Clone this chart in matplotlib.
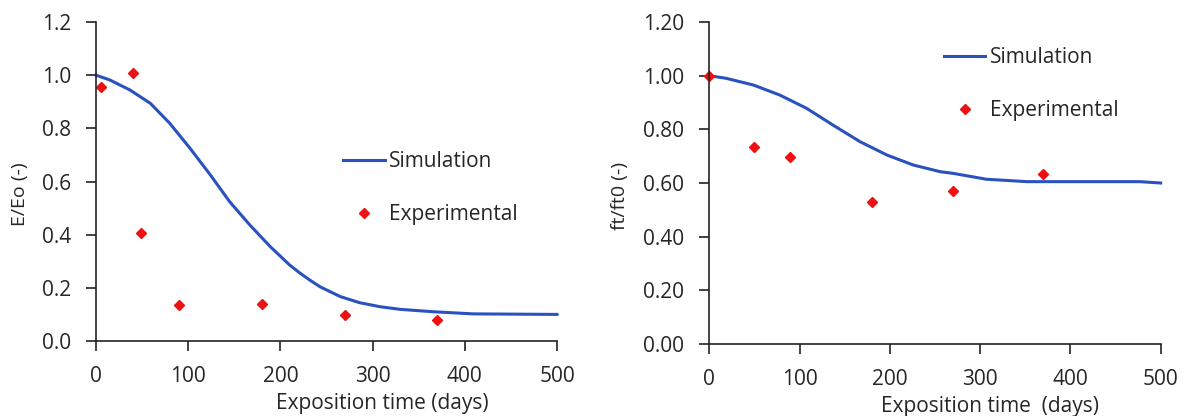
import matplotlib
matplotlib.use("Agg")
import matplotlib.pyplot as plt

# ─── Data ───────────────────────────────────────────────────────────────────
# Left panel: E/Eo
sim_e_t = [0, 15, 37, 59, 80, 102, 124, 145, 167, 189, 210, 221, 232, 243,
           265, 286, 308, 330, 366, 409, 500]
sim_e_v = [1.00, 0.982, 0.944, 0.894, 0.819, 0.725, 0.625, 0.524, 0.436,
           0.355, 0.286, 0.256, 0.229, 0.204, 0.167, 0.144, 0.129, 0.119,
           0.110, 0.102, 0.100]
exp_e_t = [6, 40, 49, 90, 180, 270, 370]
exp_e_v = [0.955, 1.01, 0.407, 0.134, 0.139, 0.098, 0.078]

# Right panel: ft/ft0
sim_f_t = [0, 19, 49, 78, 108, 137, 167, 197, 226, 256, 270, 307, 352, 477, 500]
sim_f_v = [1.00, 0.990, 0.965, 0.928, 0.878, 0.816, 0.754, 0.704, 0.667,
           0.642, 0.636, 0.614, 0.605, 0.605, 0.600]
exp_f_t = [0, 50, 90, 180, 270, 370]
exp_f_v = [1.00, 0.734, 0.698, 0.529, 0.571, 0.634]

x_ticks = [0, 100, 200, 300, 400, 500]
e_ticks = [0.0, 0.2, 0.4, 0.6, 0.8, 1.0, 1.2]
f_ticks = [0.0, 0.2, 0.4, 0.6, 0.8, 1.0, 1.2]

BLUE = "#2a52be"
RED = "#ee1111"
TXT = "#262626"

plt.rcParams["font.family"] = ["Open Sans", "DejaVu Sans"]

fig = plt.figure(figsize=(11.92, 4.16), dpi=100)
ax1 = fig.add_axes([0.0805, 0.1803, 0.3868, 0.7668])
ax2 = fig.add_axes([0.5950, 0.1731, 0.3787, 0.7740])


def style(ax, yticks, fmt, ylabel, xlabel, ylab_x):
    ax.set_xlim(0, 500)
    ax.set_ylim(0, 1.2)
    ax.set_xticks(x_ticks)
    ax.set_yticks(yticks)
    ax.set_yticklabels([fmt.format(v) for v in yticks])
    for s in ("top", "right"):
        ax.spines[s].set_visible(False)
    for s in ("left", "bottom"):
        ax.spines[s].set_color("#222222")
        ax.spines[s].set_linewidth(1.2)
    ax.tick_params(direction="out", length=7, width=1.2, color="#222222",
                   labelsize=15, labelcolor=TXT, pad=11)
    ax.set_ylabel(ylabel, fontsize=14, color=TXT)
    ax.set_xlabel(xlabel, fontsize=15, color=TXT)
    ax.xaxis.set_label_coords(0.621, -0.163)
    ax.yaxis.set_label_coords(ylab_x, 0.46)


ax1.plot(sim_e_t, sim_e_v, color=BLUE, lw=2.2, label="Simulation", clip_on=False)
ax1.plot(exp_e_t, exp_e_v, "D", color=RED, ms=5.5, ls="none",
         label="Experimental", clip_on=False)
style(ax1, e_ticks, "{:.1f}", "E/Eo (-)", "Exposition time (days)", -0.145)
ax1.legend(loc="upper left", bbox_to_anchor=(0.495, 0.655), frameon=False,
           fontsize=15, handlelength=2.0, handletextpad=0.2, labelspacing=1.55,
           labelcolor=TXT)

ax2.plot(sim_f_t, sim_f_v, color=BLUE, lw=2.2, label="Simulation", clip_on=False)
ax2.plot(exp_f_t, exp_f_v, "D", color=RED, ms=5.5, ls="none",
         label="Experimental", clip_on=False)
style(ax2, f_ticks, "{:.2f}", "ft/ft0 (-)", "Exposition time  (days)", -0.178)
ax2.legend(loc="upper left", bbox_to_anchor=(0.478, 0.98), frameon=False,
           fontsize=15, handlelength=2.0, handletextpad=0.2, labelspacing=1.55,
           labelcolor=TXT)

fig.savefig("out.png", dpi=100)
